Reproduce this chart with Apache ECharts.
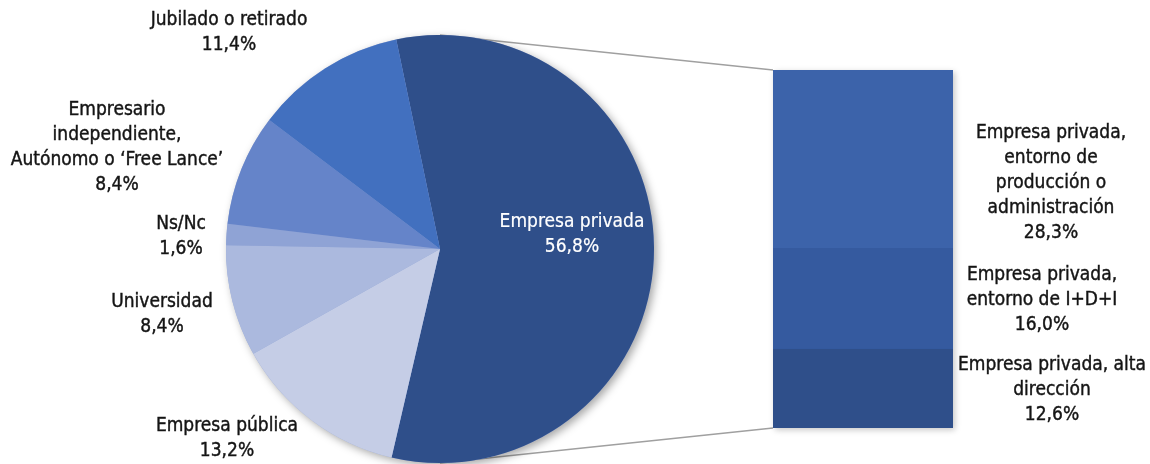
<!DOCTYPE html>
<html>
<head>
<meta charset="utf-8">
<script src="https://cdn.jsdelivr.net/npm/echarts@6/dist/echarts.min.js"></script>
<style>
  html, body { margin: 0; padding: 0; background: #ffffff; }
  #chart { width: 1150px; height: 464px; }
</style>
</head>
<body>
<div id="chart"></div>
<script>
// Situación laboral: sectores principales (pie)
const pieNames = [
  'Empresa privada',
  'Empresa pública',
  'Universidad',
  'Ns/Nc',
  'Empresario\nindependiente,\nAutónomo o \u2018Free Lance\u2019',
  'Jubilado o retirado'
];
const pieValues = [56.8, 13.2, 8.4, 1.6, 8.4, 11.4];

// Desglose de la empresa privada (barra apilada, de abajo arriba)
const barNames = [
  'Empresa privada, alta\ndirección',
  'Empresa privada,\nentorno de I+D+I',
  'Empresa privada,\nentorno de\nproducción o\nadministración'
];
const barValues = [12.6, 16.0, 28.3];

// Styling
const FONT = "'Liberation Sans Narrow', 'Arial Narrow', 'DejaVu Sans Condensed', sans-serif";
const TEXT = '#141414';
const FS = 19;
const LH = 25;
const pieColors = ['#2f4f8a', '#c5cde6', '#abb9de', '#8fa3d5', '#6584c9', '#4270bf'];
const barColors = ['#2f4f8a', '#355a9f', '#3c63aa'];
const PIE_CENTER = [440, 249];
const PIE_RADIUS = 214;
const PIE_START = 101.8;
const GRID = { left: 773, top: 70, width: 180, height: 358 };
// label anchor points (centre of each text block)
const pieLabelPos = [[572, 235], [227, 439], [162, 315], [181, 237], [117, 148], [229, 33]];
const barLabelPos = [[1052, 390], [1042, 300], [1051, 183]];

const fmt = v => v.toFixed(1).replace('.', ',') + '%';
const total = barValues.reduce((a, b) => a + b, 0);

const textStyle = {
  fontFamily: FONT, fontSize: FS, lineHeight: LH, color: TEXT, align: 'center',
  textBorderColor: TEXT, textBorderWidth: 0.4
};

const chart = echarts.init(document.getElementById('chart'), null, { renderer: 'canvas' });

const barSeries = barNames.map((name, i) => ({
  type: 'bar',
  name: name,
  stack: 'privada',
  barWidth: '100%',
  z: 3,
  data: [barValues[i]],
  itemStyle: { color: barColors[i] },
  label: Object.assign({
    show: true,
    formatter: () => name + '\n' + fmt(barValues[i])
  }, textStyle),
  labelLayout: () => ({ x: barLabelPos[i][0], y: barLabelPos[i][1], align: 'center', verticalAlign: 'middle' }),
  silent: true
}));

chart.setOption({
  animation: false,
  backgroundColor: '#ffffff',
  grid: Object.assign({ containLabel: false }, GRID),
  xAxis: { type: 'category', data: ['Empresa privada'], show: false },
  yAxis: { type: 'value', min: 0, max: total, show: false },
  series: [
    // soft shadow underneath the whole pie
    {
      type: 'pie',
      silent: true,
      z: 1,
      center: PIE_CENTER,
      radius: PIE_RADIUS,
      label: { show: false },
      labelLine: { show: false },
      data: [{ value: pieValues.reduce((a, b) => a + b, 0), name: '' }],
      itemStyle: {
        color: '#9aabd8',
        shadowBlur: 9,
        shadowOffsetX: 3,
        shadowOffsetY: 3,
        shadowColor: 'rgba(0,0,0,0.35)'
      }
    },
    {
      type: 'pie',
      z: 3,
      center: PIE_CENTER,
      radius: PIE_RADIUS,
      startAngle: PIE_START,
      clockwise: true,
      avoidLabelOverlap: false,
      silent: true,
      data: pieNames.map((n, i) => ({
        name: n,
        value: pieValues[i],
        itemStyle: { color: pieColors[i] },
        label: i === 0 ? { color: '#ffffff', textBorderColor: '#ffffff', textBorderWidth: 0.2 } : {}
      })),
      itemStyle: { borderWidth: 0 },
      label: Object.assign({
        show: true,
        position: 'outside',
        formatter: p => p.name + '\n' + fmt(p.value)
      }, textStyle),
      labelLine: { show: false },
      labelLayout: p => ({
        x: pieLabelPos[p.dataIndex][0],
        y: pieLabelPos[p.dataIndex][1],
        align: 'center',
        verticalAlign: 'middle'
      })
    },
    // soft shadow behind the whole stacked bar
    {
      type: 'bar',
      silent: true,
      z: 1,
      barWidth: '100%',
      barGap: '-100%',
      data: [total],
      itemStyle: {
        color: barColors[1],
        shadowBlur: 6, shadowOffsetX: 2, shadowOffsetY: 2, shadowColor: 'rgba(0,0,0,0.22)'
      }
    }
  ].concat(barSeries)
});

// connector lines from the top and bottom of the pie to the bar's corners
const barLeftTop = chart.convertToPixel({ gridIndex: 0 }, [0, total]);
const barLeftBottom = chart.convertToPixel({ gridIndex: 0 }, [0, 0]);
const xLeft = GRID.left;
chart.setOption({
  graphic: [
    {
      type: 'line', z: 0, silent: true,
      shape: { x1: PIE_CENTER[0], y1: PIE_CENTER[1] - PIE_RADIUS, x2: xLeft, y2: barLeftTop[1] },
      style: { stroke: '#a0a0a0', lineWidth: 1.6 }
    },
    {
      type: 'line', z: 0, silent: true,
      shape: { x1: PIE_CENTER[0], y1: PIE_CENTER[1] + PIE_RADIUS, x2: xLeft, y2: barLeftBottom[1] },
      style: { stroke: '#a0a0a0', lineWidth: 1.6 }
    }
  ]
});
</script>
</body>
</html>
